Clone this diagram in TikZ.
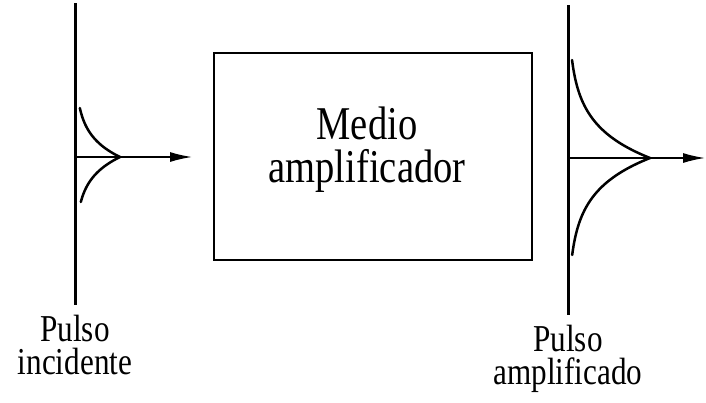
\documentclass[tikz,border=0pt]{standalone}
\usepackage{fontspec}
\setmainfont{Liberation Serif}[FakeStretch=0.82]
\usetikzlibrary{arrows.meta,positioning}
\begin{document}
\begin{tikzpicture}[x=1pt,y=-1pt,>={Latex[length=22pt,width=10pt]},
  axis/.style={line width=3pt},
  pulse/.style={line width=2.5pt,line cap=round},
  ray/.style={->,line width=1.5pt},
  box/.style={draw,line width=2.5pt,minimum width=318pt,minimum height=207pt,inner sep=0pt},
  lbl/.style={align=center,inner sep=0pt,font=\fontsize{38}{33}\selectfont}]
  \useasboundingbox (0,0) rectangle (706,402);
  \coordinate (top1) at (75,3);  \coordinate (foot1) at (75,305);
  \coordinate (in1) at (75,157); \coordinate (out1) at (192,157);
  \coordinate (top2) at (568,5); \coordinate (foot2) at (568,315);
  \coordinate (in2) at (568,158); \coordinate (out2) at (705,158);
  \draw[axis] (top1) -- (foot1);
  \draw[axis] (top2) -- (foot2);
  \draw[ray] (in1) -- (out1);
  \draw[ray] (in2) -- (out2);
  \draw[pulse] plot[domain=108:157,samples=50] ({75+45*exp(-(157-\x)/22)},\x)
    -- plot[domain=157:202,samples=46] ({75+45*exp(-(\x-157)/22)},\x);
  \draw[pulse] plot[domain=60:158,samples=99] ({568+82*exp(-(158-\x)/32.6)},\x)
    -- plot[domain=158:255,samples=98] ({568+82*exp(-(\x-158)/32.6)},\x);
  \node[box] (medio) at (373,156.5) {};
  \node[align=center,inner sep=0pt,font=\fontsize{47}{43}\selectfont] (txt) at (367,149.5) {Medio\\amplificador};
  \node[lbl,below=10pt of foot1] (inc) {Pulso\\incidente};
  \node[lbl,below=10pt of foot2] (amp) {Pulso\\amplificado};
\end{tikzpicture}
\end{document}
